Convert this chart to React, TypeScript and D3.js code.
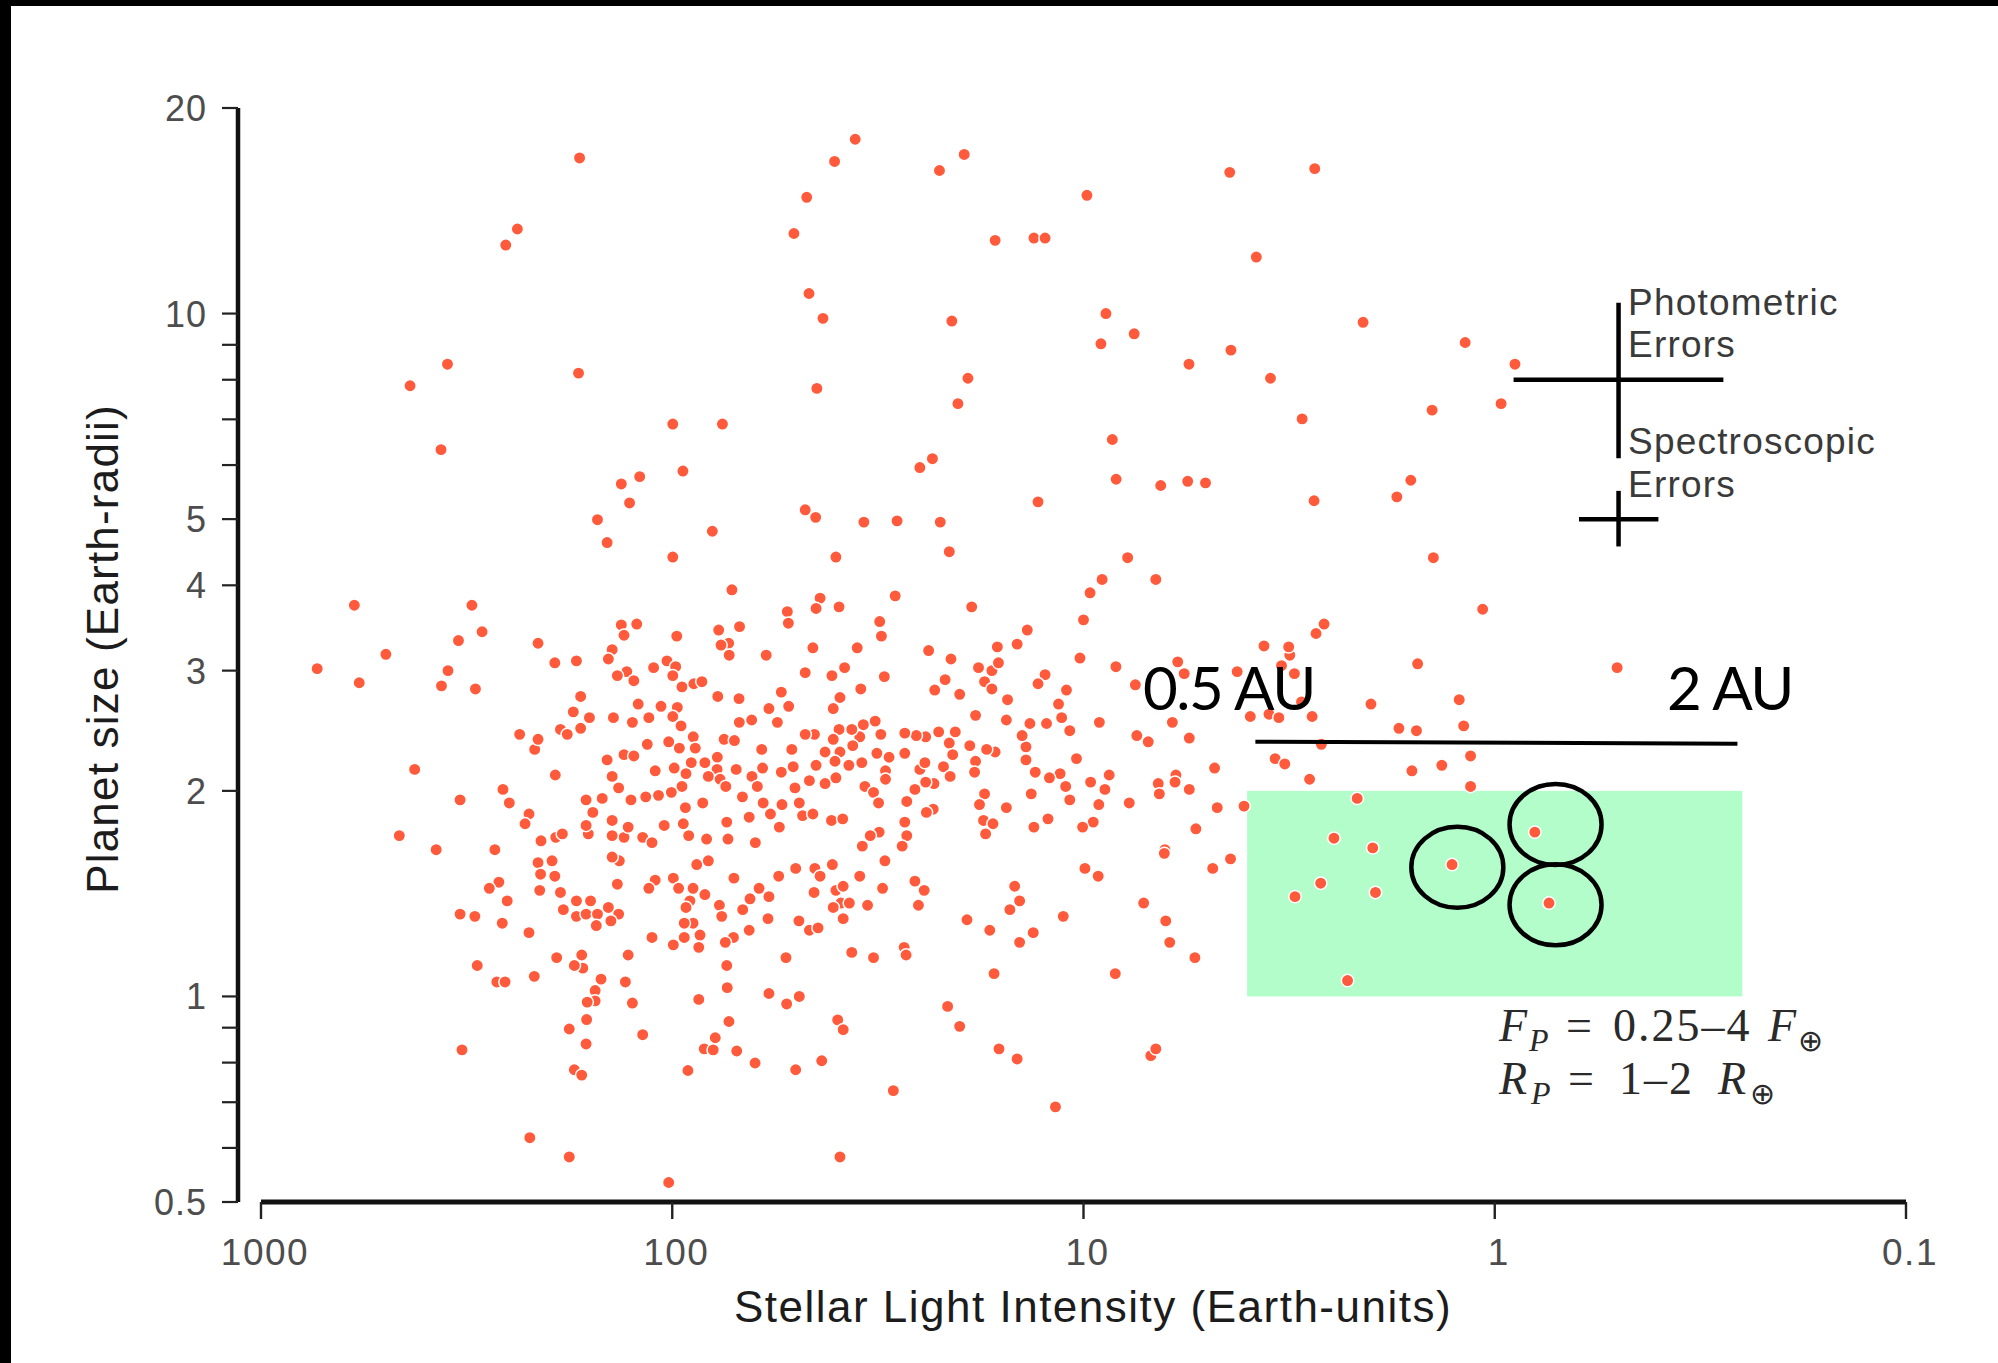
import React from 'react';
import * as d3 from 'd3';

// [stellar light intensity (Earth units), planet radius (Earth radii)]
const planets: [number, number][] = [
  [593,3.74],[307,3.74],[290,3.42],[331,3.32],[212,3.29],[497,3.17],[730,3.02],[577,2.88],[351,3.0],[364,2.85],[301,2.82],[193,3.08],[171,3.10],[133,3.50],[122,3.51],[131,3.38],[97.5,3.37],[77.1,3.44],[68.6,3.48],[72.9,3.29],[76.1,3.27],[72.7,3.16],[59.1,3.16],[52.5,3.66],[52.2,3.52],[71.6,3.94],[140,3.22],[143,3.12],[111,3.03],[103,3.10],[98.1,3.04],[99.7,2.95],[129,2.99],[136,2.95],[124,2.90],[94.7,2.84],[88.6,2.87],[84.7,2.89],[77.5,2.75],[68.8,2.73],[54.3,2.79],[52.1,2.66],[58.2,2.64],[55.5,2.52],[64.1,2.54],[68.7,2.52],[167,2.75],[174,2.61],[159,2.56],[167,2.47],[187,2.46],[180,2.42],[139,2.56],[121,2.68],[125,2.52],[114,2.56],[106.5,2.66],[97.2,2.65],[99.7,2.57],[95.2,2.49],[88.9,2.40],[87.9,2.31],[96.1,2.31],[102,2.36],[115,2.34],[74.8,2.38],[70.6,2.37],[60.6,2.30],[60.3,2.16],[54.3,2.13],[64.0,2.10],[62.1,2.03],[69.9,2.15],[77.7,2.24],[77.8,2.15],[83.3,2.20],[89.9,2.20],[92.6,2.12],[98.9,2.16],[110,2.14],[81.7,2.10],[76.5,2.08],[74.1,2.03],[94.7,2.03],[100.5,1.99],[108,1.97],[116,1.96],[126,1.94],[92.9,1.89],[84.3,1.92],[67.5,1.96],[60.1,1.92],[54.1,1.91],[57.7,1.85],[65.0,1.83],[54.9,1.77],[73.7,1.80],[73.2,1.70],[62.8,1.68],[82.5,1.70],[91.2,1.72],[94.0,1.79],[104.6,1.78],[118,1.71],[112,1.68],[131,1.71],[140,1.72],[128,1.77],[140,1.81],[160,1.73],[162,1.78],[156,1.86],[162,1.94],[148,1.95],[135,2.02],[140,2.10],[144,2.22],[131,2.26],[124,2.25],[192.5,2.11],[216,2.30],[212,2.38],[235,2.42],[258,2.01],[249,1.92],[223,1.85],[228,1.79],[192,1.71],[185,1.73],[208.5,1.69],[423,2.15],[328,1.94],[461,1.72],[375,1.64],[270,1.64],
  [43.7,3.83],[44.7,3.70],[39.3,3.72],[28.7,3.86],[18.7,3.72],[9.64,3.90],[10.0,3.56],[13.7,3.44],[14.5,3.28],[16.2,3.25],[31.3,3.54],[31.0,3.37],[45.5,3.24],[35.5,3.24],[23.8,3.21],[21.0,3.12],[10.2,3.13],[8.34,3.04],[18.0,3.03],[16.7,3.0],[16.1,3.08],[17.4,2.89],[16.7,2.82],[21.7,2.91],[23.0,2.81],[20.0,2.77],[30.5,2.94],[38.1,3.03],[40.9,2.95],[47.5,2.98],[34.8,2.82],[39.1,2.74],[40.6,2.64],[12.4,2.96],[12.9,2.87],[11.0,2.81],[15.3,2.72],[11.5,2.68],[11.3,2.56],[10.8,2.45],[12.3,2.51],[13.5,2.51],[15.4,2.54],[18.3,2.58],[9.15,2.52],[7.48,2.86],[5.90,3.09],[5.69,2.97],[6.08,2.52],[5.53,2.39],[7.42,2.41],[6.96,2.36],[3.93,2.57],[3.54,2.59],[3.35,2.56],[3.64,3.26],[3.15,3.16],[3.17,3.25],[3.30,3.05],[3.07,2.97],[4.23,2.99],[3.42,2.23],[3.24,2.19],[4.80,2.16],[5.96,2.11],[5.99,2.06],[6.58,2.05],[6.54,1.98],[5.53,2.01],[7.74,1.92],[4.73,1.89],[4.07,1.90],[5.33,1.76],[6.34,1.64],[8.66,2.11],[8.87,2.01],[9.61,2.06],[9.18,1.91],[9.47,1.80],[10.05,1.77],[10.8,1.94],[11.05,2.03],[11.4,2.12],[12.1,2.09],[10.4,2.23],[12.2,1.82],[13.2,1.77],[13.4,1.98],[13.1,2.13],[13.8,2.22],[13.8,2.32],[14.1,2.41],[15.4,1.89],[17.4,1.98],[17.9,1.91],[17.5,1.81],[16.6,1.79],[17.3,1.73],[16.4,2.28],[17.2,2.30],[18.3,2.21],[18.4,2.13],[18.9,2.33],[20.5,2.44],[21.2,2.35],[20.8,2.26],[21.9,2.17],[21.1,2.10],[23.1,2.05],[24.2,2.06],[25.7,2.01],[26.9,1.93],[23.2,1.88],[24.1,1.86],[27.2,1.80],[26.9,1.72],[27.6,1.66],[31.4,1.74],[33.0,1.72],[34.5,1.66],[22.5,2.44],[24.2,2.40],[25.5,2.41],[27.2,2.43],[27.2,2.27],[25.0,2.15],[24.3,2.20],[29.7,2.24],[30.3,2.14],[30.3,2.08],[31.8,2.27],[31.1,2.42],[32.1,2.53],[34.3,2.50],[35.0,2.40],[36.6,2.46],[39.3,2.46],[36.4,2.33],[39.1,2.28],[40.6,2.38],[42.5,2.28],[45.1,2.42],[47.5,2.42],[51.2,2.30],[40.2,2.21],[37.2,2.18],[34.6,2.20],[44.7,2.18],[50.8,2.17],[40.0,2.09],[42.5,2.05],[46.4,2.07],[50.3,2.02],[49.1,1.92],[34.0,2.03],[32.4,1.99],[31.5,1.92],[48.2,1.84],[45.5,1.85],[41.0,1.81],[38.5,1.82],
  [212,1.57],[196,1.58],[209,1.51],[193,1.50],[210,1.43],[187,1.42],[264,1.47],[278.5,1.44],[252,1.38],[328,1.32],[302,1.31],[259,1.28],[223,1.24],[171,1.38],[158,1.38],[184,1.34],[171,1.31],[162,1.32],[152,1.32],[143,1.35],[135,1.32],[141,1.29],[153,1.27],[136,1.46],[134.5,1.58],[140,1.60],[110,1.48],[114,1.44],[99.4,1.49],[96.5,1.44],[89.0,1.44],[83.3,1.41],[90.6,1.38],[92.6,1.35],[89.0,1.28],[93.5,1.28],[93.5,1.22],[85.6,1.23],[86.2,1.18],[99.4,1.19],[112,1.22],[87.2,1.56],[81.7,1.58],[70.8,1.49],[76.8,1.36],[75.8,1.31],[67.4,1.34],[64.7,1.39],[61.5,1.44],[58.2,1.40],[55.1,1.50],[58.5,1.30],[65.0,1.25],[71.0,1.22],[74.3,1.20],[73.7,1.11],[73.5,1.03],[86.2,0.99],[58.2,1.01],[52.9,1.14],[52.7,0.975],[72.8,0.919],[78.6,0.870],[83.6,0.838],[79.5,0.835],[69.7,0.832],[62.9,0.799],[91.6,0.779],[118,0.879],[125,0.978],[130,1.05],[128,1.15],[149,1.06],[154,1.02],[154,0.985],[161,0.981],[161.5,0.925],[178,0.896],[162,0.852],[173,0.781],[166,0.767],[166,1.15],[165,1.10],[173,1.11],[191,1.14],[216.5,1.07],[267,1.05],[255,1.05],[298,1.11],[324.5,0.835],
  [30.4,1.58],[50.1,1.54],[45.0,1.54],[43.7,1.50],[40.8,1.56],[35.0,1.50],[45.2,1.42],[40.0,1.43],[38.4,1.45],[38.9,1.37],[37.1,1.37],[40.6,1.35],[38.4,1.30],[33.5,1.36],[30.8,1.44],[25.7,1.475],[24.4,1.43],[25.2,1.36],[49.2,1.29],[46.4,1.25],[44.2,1.26],[36.6,1.16],[32.4,1.14],[27.3,1.18],[27.0,1.15],[49.1,1.0],[39.6,0.924],[38.4,0.894],[43.3,0.805],[50.1,0.781],[29.0,0.728],[19.2,1.295],[16.9,1.25],[14.7,1.45],[14.3,1.38],[15.1,1.34],[13.25,1.24],[14.3,1.20],[11.2,1.31],[16.5,1.08],[21.4,0.967],[20.0,0.904],[16.05,0.838],[14.5,0.810],[9.92,1.54],[9.21,1.50],[6.36,1.62],[4.85,1.54],[4.39,1.59],[7.14,1.37],[6.31,1.29],[6.17,1.20],[5.36,1.14],[8.37,1.08],[3.06,1.40],[6.86,0.819],[6.67,0.838],
  [2.60,3.51],[2.72,3.40],[1.54,3.07],[2.00,2.68],[1.22,2.72],[1.19,2.49],[1.71,2.47],[1.55,2.45],[2.95,2.70],[2.78,2.57],[2.64,2.34],[2.82,2.08],[1.59,2.14],[1.345,2.18],[1.145,2.25],[1.145,2.03],[0.504,3.03],[2.16,1.95],[2.46,1.705],[1.98,1.65],[2.65,1.465],[1.95,1.42],[1.27,1.56],[0.799,1.74],[0.738,1.37],[2.28,1.055],
  [168,16.9],[35.9,18.0],[40.3,16.7],[19.5,17.1],[22.4,16.2],[47.1,14.8],[9.81,14.9],[4.41,16.1],[2.74,16.3],[50.6,13.1],[238,13.3],[254,12.6],[16.4,12.8],[13.2,12.9],[12.4,12.9],[3.80,12.1],[46.5,10.7],[43.0,9.84],[20.9,9.75],[8.82,10.0],[7.53,9.34],[2.09,9.71],[1.18,9.07],[0.893,8.43],[0.965,7.38],[9.07,9.03],[4.38,8.84],[5.54,8.43],[169,8.18],[352,8.43],[434,7.84],[44.5,7.77],[19.1,8.04],[20.2,7.38],[3.51,8.04],[2.94,7.01],[1.42,7.22],[99.7,6.89],[75.5,6.89],[365,6.32],[8.51,6.54],[23.3,6.13],[25.0,5.95],[94.2,5.88],[133,5.63],[120,5.77],[8.33,5.72],[6.49,5.60],[5.58,5.68],[5.05,5.65],[1.60,5.70],[1.73,5.39],[2.75,5.32],[12.9,5.30],[47.5,5.16],[44.8,5.03],[34.2,4.95],[28.4,4.97],[22.3,4.95],[152,4.99],[127,5.28],[99.7,4.40],[79.9,4.80],[144,4.62],[40.0,4.40],[21.2,4.48],[7.81,4.39],[1.41,4.39],[9.01,4.08],[6.67,4.08],[1.07,3.69],
  [222,0.621],[178,0.582],[102,0.534],[39.1,0.582],[11.7,0.689],
];

const xTicks = [1000, 100, 10, 1, 0.1];
const yTicks = [20, 10, 9, 8, 7, 6, 5, 4, 3, 2, 1, 0.9, 0.8, 0.7, 0.6, 0.5];
const yTickLabels = [20, 10, 5, 4, 3, 2, 1, 0.5];

const habitableFlux = [4, 0.25];
const habitableRadius = [1, 2];
const auLineFlux = [3.82, 0.257];
const auLineRadius = [2.36, 2.345];
const circled: [number, number][] = [[1.233, 1.546], [0.7115, 1.786], [0.7115, 1.362]];
const photometricFlux = [0.9, 0.5, 0.278];
const photometricRadius = [10.37, 8, 6.14];
const spectroscopicFlux = [0.624, 0.5, 0.4];
const spectroscopicRadius = [5.5, 5, 4.56];

const W = 1998, H = 1363;
const x = d3.scaleLog().domain([1000, 0.1]).range([261, 1906]);
const y = d3.scaleLog().domain([20, 0.5]).range([108, 1202]);

const sans = "'Liberation Sans', Arial, Helvetica, sans-serif";
const serif = "'Liberation Serif', 'Times New Roman', serif";

export default function App() {
  const dotColor = '#ff5a3b';
  return (
    <svg width={W} height={H} style={{ position: 'absolute', left: 0, top: 0, display: 'block' }}>
      <rect x={0} y={0} width={W} height={H} fill="#fff" />
      <rect x={0} y={0} width={W} height={6} fill="#000" />
      <rect x={0} y={0} width={11} height={H} fill="#000" />

      {/* habitable box */}
      <rect
        x={x(habitableFlux[0])}
        y={y(habitableRadius[1])}
        width={x(habitableFlux[1]) - x(habitableFlux[0])}
        height={y(habitableRadius[0]) - y(habitableRadius[1])}
        fill="#b3fdcb"
      />

      {/* y axis */}
      <line x1={238} x2={238} y1={y(20)} y2={y(0.5)} stroke="#111" strokeWidth={4.5} />
      {yTicks.map((t) => (
        <line key={'yt' + t} x1={222} x2={238} y1={y(t)} y2={y(t)} stroke="#222" strokeWidth={2.2} />
      ))}
      {yTickLabels.map((t) => (
        <text key={'yl' + t} x={207} y={y(t)} dy="0.36em" textAnchor="end" fontFamily={sans} fontSize={36} fill="#4d4d4d" letterSpacing={1}>
          {t}
        </text>
      ))}

      {/* x axis */}
      <line x1={x(1000)} x2={x(0.1)} y1={1202} y2={1202} stroke="#111" strokeWidth={5} />
      {xTicks.map((t) => (
        <line key={'xt' + t} x1={x(t)} x2={x(t)} y1={1202} y2={1219} stroke="#222" strokeWidth={2.4} />
      ))}
      {xTicks.map((t) => (
        <text key={'xl' + t} x={x(t) + 4} y={1265} textAnchor="middle" fontFamily={sans} fontSize={37} fill="#4d4d4d" letterSpacing={1.5}>
          {t}
        </text>
      ))}

      <text x={1093} y={1322} textAnchor="middle" fontFamily={sans} fontSize={44} fill="#1c1c1c" letterSpacing={1.5}>
        Stellar Light Intensity (Earth-units)
      </text>
      <text transform="translate(118,649) rotate(-90)" textAnchor="middle" fontFamily={sans} fontSize={44} fill="#1c1c1c" letterSpacing={1.2}>
        Planet size (Earth-radii)
      </text>

      {/* points */}
      {planets.map(([f, r], i) => (
        <circle key={i} cx={x(f)} cy={y(r)} r={6.2} fill={dotColor} stroke="#fff" strokeWidth={1.5} />
      ))}

      {/* error bars */}
      <g stroke="#000" strokeWidth={4.5}>
        <line x1={x(photometricFlux[0])} x2={x(photometricFlux[2])} y1={y(photometricRadius[1])} y2={y(photometricRadius[1])} />
        <line x1={x(photometricFlux[1])} x2={x(photometricFlux[1])} y1={y(photometricRadius[0])} y2={y(photometricRadius[2])} />
        <line x1={x(spectroscopicFlux[0])} x2={x(spectroscopicFlux[2])} y1={y(spectroscopicRadius[1])} y2={y(spectroscopicRadius[1])} />
        <line x1={x(spectroscopicFlux[1])} x2={x(spectroscopicFlux[1])} y1={y(spectroscopicRadius[0])} y2={y(spectroscopicRadius[2])} />
      </g>
      <g fontFamily={sans} fontSize={37} fill="#3a3a3a" letterSpacing={1.2}>
        <text x={1628} y={315}>Photometric</text>
        <text x={1628} y={357}>Errors</text>
        <text x={1628} y={454}>Spectroscopic</text>
        <text x={1628} y={497}>Errors</text>
      </g>

      {/* AU annotation */}
      <line x1={x(auLineFlux[0])} x2={x(auLineFlux[1])} y1={y(auLineRadius[0])} y2={y(auLineRadius[1])} stroke="#000" strokeWidth={4} />
      <text x={1143} y={710} fontFamily="Lato, 'Open Sans', sans-serif" fontSize={60} fill="#000" letterSpacing={-1.5}>0.5 AU</text>
      <text x={1667} y={710} fontFamily="Lato, 'Open Sans', sans-serif" fontSize={60} fill="#000" letterSpacing={-1.5}>2 AU</text>

      {/* circles */}
      {circled.map(([f, r], i) => (
        <ellipse key={'c' + i} cx={x(f)} cy={y(r)} rx={46} ry={40.5} fill="none" stroke="#000" strokeWidth={4.5} />
      ))}

      {/* formula */}
      <g fontFamily={serif} fontSize={46} fill="#2a2a2a">
        <text y={1041}>
          <tspan x={1499} fontStyle="italic">F</tspan>
          <tspan x={1529} dy={10} fontStyle="italic" fontSize={32}>P</tspan>
          <tspan x={1566} dy={-10}>=</tspan>
          <tspan x={1613} letterSpacing={2}>0.25–4</tspan>
          <tspan x={1768} fontStyle="italic">F</tspan>
          <tspan x={1798} dy={10} fontSize={30}>⊕</tspan>
        </text>
        <text y={1094}>
          <tspan x={1499} fontStyle="italic">R</tspan>
          <tspan x={1531} dy={10} fontStyle="italic" fontSize={32}>P</tspan>
          <tspan x={1568} dy={-10}>=</tspan>
          <tspan x={1619} letterSpacing={2}>1–2</tspan>
          <tspan x={1718} fontStyle="italic">R</tspan>
          <tspan x={1750} dy={10} fontSize={30}>⊕</tspan>
        </text>
      </g>
    </svg>
  );
}
